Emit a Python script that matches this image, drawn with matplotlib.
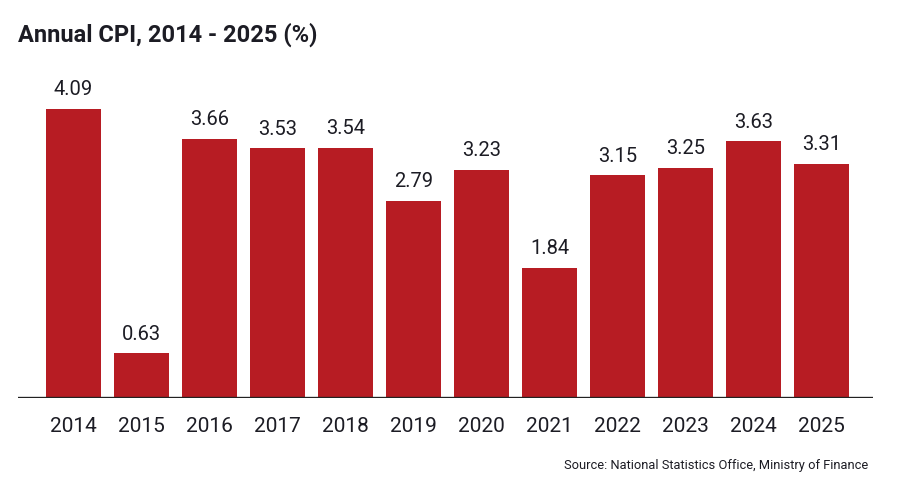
import matplotlib.pyplot as plt
from matplotlib import font_manager

names = set(f.name for f in font_manager.fontManager.ttflist)
cond = 'Liberation Sans Narrow' if 'Liberation Sans Narrow' in names else 'Roboto'

# data
years = ['2014', '2015', '2016', '2017', '2018', '2019',
         '2020', '2021', '2022', '2023', '2024', '2025']
cpi = [4.09, 0.63, 3.66, 3.53, 3.54, 2.79, 3.23, 1.84, 3.15, 3.25, 3.63, 3.31]

red = '#B71C23'
txt = '#1c1c24'

fig = plt.figure(figsize=(9, 4.92), dpi=100)
ax = fig.add_axes([18/900, 1-398/492, (873-18)/900, (398-60)/492])

x = range(len(years))
bars = ax.bar(x, cpi, width=0.81, color=red, zorder=2)
ax.set_xlim(-0.816, 11.76)
ax.set_ylim(0, 4.78)

# value labels above bars
for b, v in zip(bars, cpi):
    ax.annotate(f'{v:.2f}', (b.get_x() + b.get_width()/2, v),
                xytext=(0, 7), textcoords='offset points',
                ha='center', va='bottom', fontsize=14.5, color=txt,
                family=cond)

ax.axhline(0, color='#222222', lw=2.4, zorder=3)
ax.set_xticks(list(x))
ax.set_xticklabels(years, fontsize=15, color=txt, family=cond)
ax.tick_params(axis='x', length=0, pad=13.5)
ax.set_yticks([])
for s in ax.spines.values():
    s.set_visible(False)

fig.text(18/900, 1-35/492, 'Annual CPI, 2014 - 2025 (%)', fontsize=17,
         fontweight='bold', color=txt, family=cond, va='center', ha='left')
fig.text(868/900, 1-465/492, 'Source: National Statistics Office, Ministry of Finance',
         fontsize=9.3, color=txt, family=cond, va='center', ha='right')

fig.savefig('out.png', dpi=100)
